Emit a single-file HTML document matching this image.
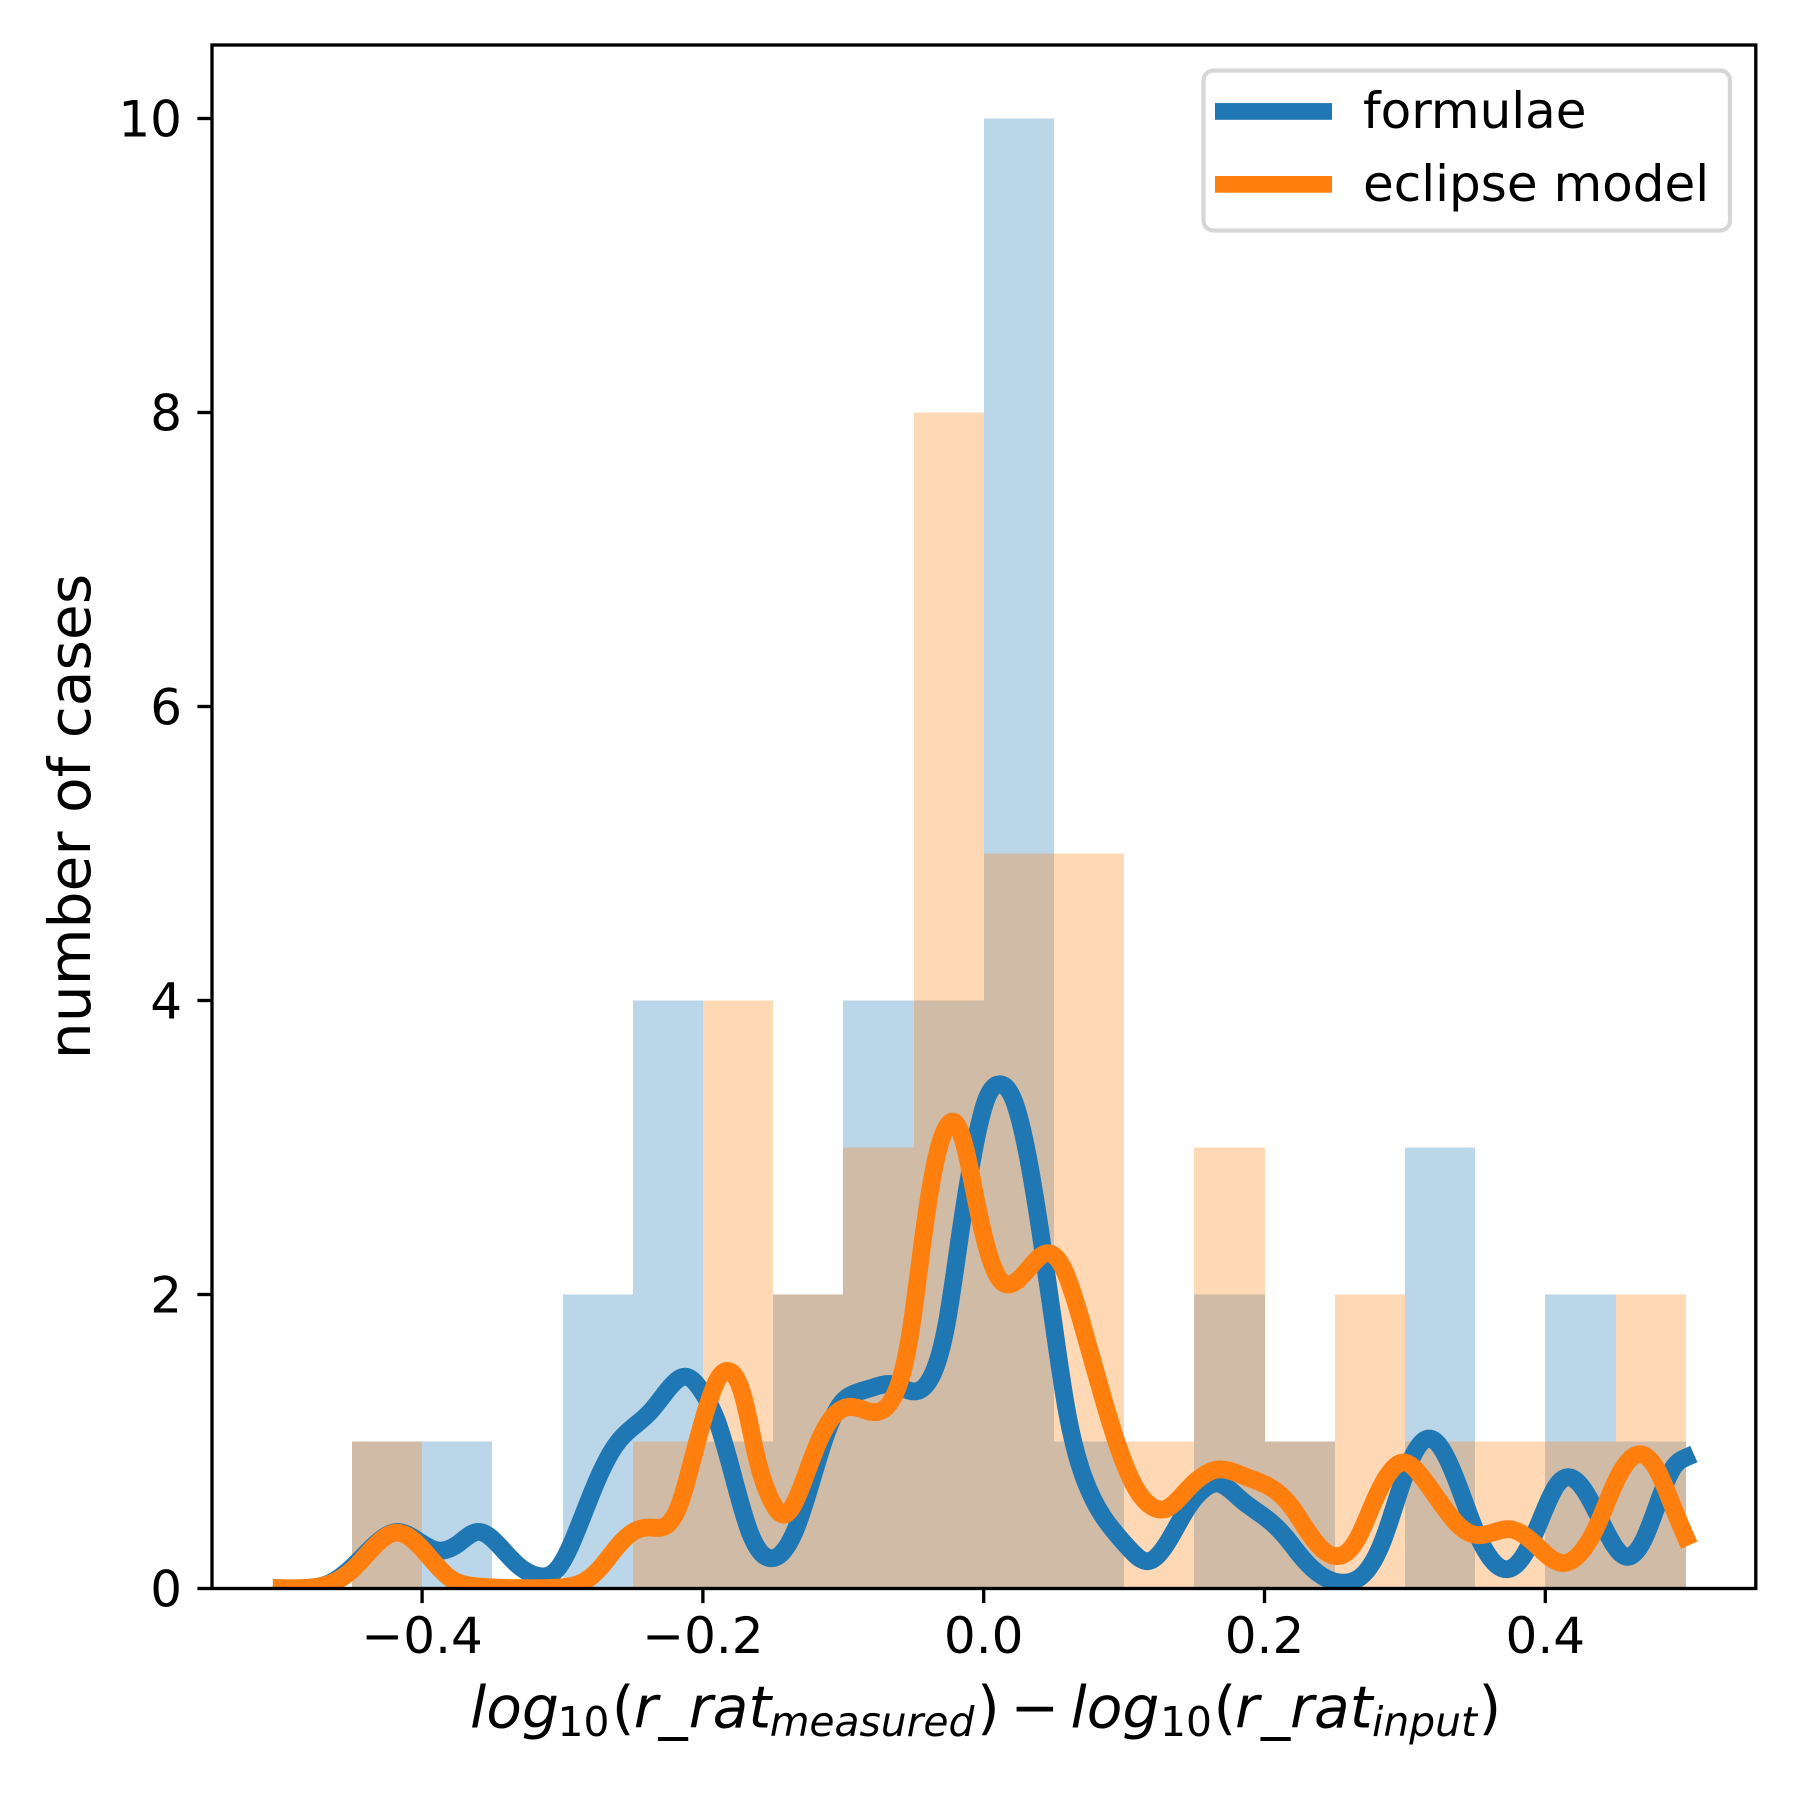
<!DOCTYPE html>
<html lang="en">
<head>
<meta charset="utf-8">
<title>Histogram and KDE of radius-ratio residuals</title>
<style>
  html, body { margin: 0; padding: 0; background: #fff; }
  svg { display: block; }
  text { font-family: "DejaVu Sans", "Liberation Sans", sans-serif; fill: #000; }
</style>
</head>
<body>
<svg id="chart" xmlns="http://www.w3.org/2000/svg" width="1800" height="1800" viewBox="0 0 1800 1800">
  <defs>
    <clipPath id="plot-clip"><rect x="212" y="45" width="1543.8" height="1543.5"></rect></clipPath>
  </defs>
  <rect x="0" y="0" width="1800" height="1800" fill="#ffffff"></rect>
  <g id="bars"></g>
  <g id="lines" clip-path="url(#plot-clip)"></g>
  <g id="axes"></g>

  <text transform="translate(90,816.5) rotate(-90)" text-anchor="middle" font-size="58.33">number of cases</text>

  <text font-size="58.33"><tspan x="470" y="1727.5" font-style="italic">log</tspan><tspan x="557.5" y="1736" font-size="40.8">10</tspan><tspan x="611.7" y="1727.5">(</tspan><tspan x="633.7" y="1727.5" font-style="italic">r</tspan><tspan x="658.5" y="1727.5">_</tspan><tspan x="688.7" y="1727.5" font-style="italic">rat</tspan><tspan x="769.7" y="1736" font-size="40.8" font-style="italic">measured</tspan><tspan x="977" y="1727.5">)</tspan><tspan x="1010.5" y="1727.5">−</tspan><tspan x="1070.5" y="1727.5" font-style="italic">log</tspan><tspan x="1160" y="1736" font-size="40.8">10</tspan><tspan x="1213.5" y="1727.5">(</tspan><tspan x="1235" y="1727.5" font-style="italic">r</tspan><tspan x="1261" y="1727.5">_</tspan><tspan x="1290" y="1727.5" font-style="italic">rat</tspan><tspan x="1372" y="1736" font-size="40.8" font-style="italic">input</tspan><tspan x="1478.5" y="1727.5">)</tspan></text>

  <g>
    <rect x="1203.5" y="70.5" width="526.5" height="160" rx="10" ry="10" fill="#ffffff" fill-opacity="0.8" stroke="#d6d6d6" stroke-width="4.17"></rect>
    <rect x="1215" y="103.1" width="117" height="16.7" fill="#1f77b4"></rect>
    <text x="1363" y="128" font-size="50">formulae</text>
    <rect x="1215" y="176" width="117" height="16.7" fill="#ff7f0e"></rect>
    <text x="1363" y="201" font-size="50">eclipse model</text>
  </g>
</svg>

<script>
// ---- Chart data ----
const binEdges = [-0.5,-0.45,-0.4,-0.35,-0.3,-0.25,-0.2,-0.15,-0.1,-0.05,0,0.05,0.1,0.15,0.2,0.25,0.3,0.35,0.4,0.45,0.5];
const formulaeCounts = [0,1,1,0,2,4,1,2,4,4,10,1,0,2,1,0,3,0,2,1];
const eclipseCounts  = [0,1,0,0,0,1,4,2,3,8,5,5,1,3,1,2,1,1,1,2];

const formulaeX = [-0.5,-0.48,-0.465,-0.45,-0.4347,-0.418,-0.403,-0.3895,-0.375,-0.3605,-0.346,-0.332,-0.3175,-0.304,-0.2853,-0.2733,-0.2614,-0.2496,-0.2377,-0.2234,-0.2115,-0.2,-0.19,-0.178,-0.1665,-0.1517,-0.1332,-0.1214,-0.1118,-0.1023,-0.09,-0.078,-0.0655,-0.0477,-0.0358,-0.0264,-0.0169,-0.0074,0.002,0.0111,0.021,0.0306,0.04,0.0495,0.059,0.0708,0.085,0.1018,0.117,0.132,0.1457,0.1566,0.167,0.1838,0.2,0.2142,0.2276,0.241,0.2556,0.2709,0.2845,0.2957,0.3066,0.318,0.3297,0.3393,0.35,0.361,0.3719,0.3856,0.3965,0.4073,0.4169,0.429,0.4427,0.4565,0.47,0.481,0.4917,0.5];
const formulaeY = [0.002,0.004,0.04,0.145,0.29,0.385,0.325,0.26,0.3,0.385,0.3,0.16,0.086,0.13,0.5,0.78,0.985,1.1,1.2,1.37,1.44,1.33,1.14,0.75,0.38,0.206,0.42,0.77,1.06,1.25,1.335,1.37,1.39,1.342,1.47,1.8,2.4,2.96,3.33,3.43,3.33,2.98,2.45,1.82,1.22,0.77,0.49,0.29,0.186,0.33,0.555,0.675,0.714,0.6,0.487,0.36,0.2,0.085,0.04,0.1,0.33,0.65,0.92,1.02,0.89,0.67,0.4,0.205,0.131,0.24,0.465,0.69,0.757,0.65,0.4,0.22,0.33,0.6,0.83,0.89];

const eclipseX = [-0.5,-0.48,-0.465,-0.45,-0.4347,-0.418,-0.4,-0.38,-0.3635,-0.34,-0.31,-0.295,-0.2853,-0.2733,-0.2614,-0.2496,-0.2377,-0.2258,-0.2163,-0.2068,-0.197,-0.189,-0.182,-0.171,-0.1617,-0.1522,-0.141,-0.1308,-0.1189,-0.1073,-0.093,-0.0739,-0.062,-0.0525,-0.0432,-0.0335,-0.0264,-0.0204,-0.012,-0.005,0.002,0.0116,0.0192,0.0306,0.0449,0.0566,0.0686,0.0805,0.0947,0.1064,0.1184,0.13,0.1457,0.1675,0.1866,0.2057,0.2193,0.2329,0.2523,0.2657,0.2793,0.29,0.2992,0.312,0.3256,0.3393,0.3543,0.3747,0.391,0.4113,0.4266,0.4375,0.4484,0.4679,0.4809,0.4919,0.5];
const eclipseY = [0.002,0.006,0.035,0.125,0.28,0.38,0.27,0.07,0.017,0.004,0.003,0.015,0.045,0.138,0.28,0.385,0.415,0.43,0.58,0.9,1.235,1.43,1.48,1.296,0.893,0.617,0.505,0.668,0.968,1.17,1.235,1.205,1.35,1.72,2.38,2.94,3.14,3.17,2.95,2.62,2.33,2.1,2.07,2.16,2.28,2.18,1.85,1.447,0.995,0.716,0.566,0.543,0.68,0.81,0.76,0.68,0.555,0.36,0.22,0.33,0.62,0.8,0.858,0.76,0.58,0.42,0.363,0.403,0.317,0.174,0.26,0.44,0.69,0.913,0.784,0.533,0.35];

const xTickValues = [-0.4,-0.2,0,0.2,0.4];
const xTickLabels = ["\u22120.4","\u22120.2","0.0","0.2","0.4"];
const yTickValues = [0,2,4,6,8,10];
const yTickLabels = ["0","2","4","6","8","10"];

// ---- Axis functions ----
const plot = { left: 211.5, right: 1755.9, top: 45, bottom: 1588.5 };
const xDomain = [-0.55, 0.55];
const yDomain = [0, 10.5];
function xScale(v) { return plot.left + (v - xDomain[0]) / (xDomain[1] - xDomain[0]) * (plot.right - plot.left); }
function yScale(v) { return plot.bottom - (v - yDomain[0]) / (yDomain[1] - yDomain[0]) * (plot.bottom - plot.top); }

const SVG_NS = "http://www.w3.org/2000/svg";
function make(tag, attrs, parent) {
  const el = document.createElementNS(SVG_NS, tag);
  for (const k in attrs) el.setAttribute(k, attrs[k]);
  parent.appendChild(el);
  return el;
}

// ---- Histogram bars ----
const barsGroup = document.getElementById("bars");
function drawBars(counts, color, prefix) {
  counts.forEach(function (c, i) {
    if (c <= 0) return;
    const x0 = Math.round(xScale(binEdges[i]));
    const x1 = Math.round(xScale(binEdges[i + 1]));
    const y1 = yScale(c);
    const bar = make("rect", { x: x0, y: y1, width: x1 - x0, height: plot.bottom - y1, fill: color, "fill-opacity": 0.3 }, barsGroup);
    
    
  });
}
drawBars(formulaeCounts, "#1f77b4", "formulae");
drawBars(eclipseCounts, "#ff7f0e", "eclipse-model");

// ---- Smooth curve through the read-off points (natural cubic spline) ----
function curvePath(xs, ys) {
  const px = xs.map(xScale), py = ys.map(yScale), n = px.length;
  const h = [], M = new Array(n).fill(0), c = new Array(n).fill(0), r = new Array(n).fill(0);
  for (let i = 0; i < n - 1; i++) h.push(px[i + 1] - px[i]);
  for (let i = 1; i < n - 1; i++) {
    const a = h[i - 1], b = 2 * (h[i - 1] + h[i]), d = h[i];
    const rhs = 6 * ((py[i + 1] - py[i]) / h[i] - (py[i] - py[i - 1]) / h[i - 1]);
    const den = b - a * c[i - 1];
    c[i] = d / den;
    r[i] = (rhs - a * r[i - 1]) / den;
  }
  for (let i = n - 2; i >= 1; i--) M[i] = r[i] - c[i] * M[i + 1];
  let path = "M" + px[0].toFixed(2) + "," + py[0].toFixed(2);
  for (let i = 0; i < n - 1; i++) {
    const s = (py[i + 1] - py[i]) / h[i];
    const m0 = s - h[i] * (2 * M[i] + M[i + 1]) / 6;
    const m1 = s + h[i] * (M[i] + 2 * M[i + 1]) / 6;
    const t = h[i] / 3;
    path += "C" + (px[i] + t).toFixed(2) + "," + (py[i] + m0 * t).toFixed(2) + " " +
            (px[i + 1] - t).toFixed(2) + "," + (py[i + 1] - m1 * t).toFixed(2) + " " +
            px[i + 1].toFixed(2) + "," + py[i + 1].toFixed(2);
  }
  return path;
}
const linesGroup = document.getElementById("lines");
const formulaeLine = make("path", { d: curvePath(formulaeX, formulaeY), fill: "none", stroke: "#1f77b4", "stroke-width": 17.8, "stroke-linecap": "square", "stroke-linejoin": "round" }, linesGroup);


const eclipseLine = make("path", { d: curvePath(eclipseX, eclipseY), fill: "none", stroke: "#ff7f0e", "stroke-width": 17.8, "stroke-linecap": "square", "stroke-linejoin": "round" }, linesGroup);



// ---- Axes, ticks, spines ----
const axesGroup = document.getElementById("axes");
xTickValues.forEach(function (v, i) {
  const x = xScale(v);
  const tick = make("line", { x1: x, x2: x, y1: plot.bottom, y2: plot.bottom + 14.6, stroke: "#000", "stroke-width": 3.33 }, axesGroup);
  
  
  const label = make("text", { x: x, y: 1653, "text-anchor": "middle", "font-size": 50 }, axesGroup);
  
  
  label.textContent = xTickLabels[i];
});
yTickValues.forEach(function (v, i) {
  const y = yScale(v);
  const tick = make("line", { x1: 212, x2: 212 - 14.6, y1: y, y2: y, stroke: "#000", "stroke-width": 3.33 }, axesGroup);
  
  
  const label = make("text", { x: 182, y: y + 18, "text-anchor": "end", "font-size": 50 }, axesGroup);
  
  
  label.textContent = yTickLabels[i];
});
const spine = make("rect", { x: 212, y: plot.top, width: 1543.8, height: plot.bottom - plot.top, fill: "none", stroke: "#000", "stroke-width": 3.33 }, axesGroup);


</script>
</body>
</html>
